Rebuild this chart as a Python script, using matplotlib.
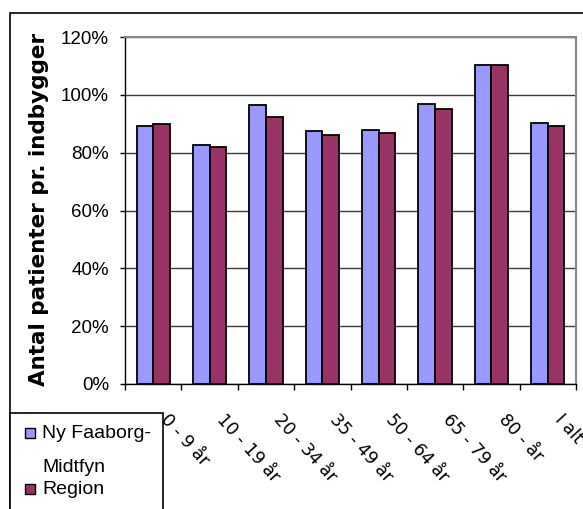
import matplotlib
matplotlib.use("Agg")
import matplotlib.pyplot as plt
import numpy as np
from matplotlib.patches import Rectangle
from matplotlib.ticker import FixedLocator, PercentFormatter

categories = ["0 - 9 år", "10 - 19 år", "20 - 34 år", "35 - 49 år",
              "50 - 64 år", "65 - 79 år", "80 - år", "I alt"]
faaborg = [89.2, 82.6, 96.5, 87.6, 87.8, 96.7, 110.4, 90.1]
region = [90.0, 82.1, 92.4, 86.0, 86.9, 95.0, 110.4, 89.2]
series_names = ["Ny Faaborg-\nMidtfyn", "Region"]
yticks = [0, 20, 40, 60, 80, 100, 120]

BLUE = "#9999FF"
PLUM = "#993366"
FONT = "Liberation Sans"

W, H = 583, 509
fig = plt.figure(figsize=(W / 100, H / 100), dpi=100)


def fx(px):
    return px / W


def fy(py):
    return 1 - py / H


# outer chart frame (only top and left edges fall inside the canvas)
fig.patches.append(Rectangle((fx(10), -0.2), 1.2, fy(13) + 0.2,
                             transform=fig.transFigure, fill=False,
                             edgecolor="black", linewidth=1.2))

ax = fig.add_axes([fx(125), fy(384), fx(576 - 125), (384 - 37) / H])

x = np.arange(len(categories))
bw = 0.296
ax.bar(x - bw / 2, faaborg, bw, color=BLUE, edgecolor="black", linewidth=1.3,
       zorder=3)
ax.bar(x + bw / 2, region, bw, color=PLUM, edgecolor="black", linewidth=1.3,
       zorder=3)

ax.set_xlim(-0.5, len(categories) - 0.5)
ax.set_ylim(0, 120)
ax.yaxis.set_major_locator(FixedLocator(yticks))
ax.yaxis.set_major_formatter(PercentFormatter(decimals=0))
ax.grid(axis="y", color="#3a3a3a", linewidth=1.0, zorder=0)
ax.set_axisbelow(True)

for s in ("top", "right"):
    ax.spines[s].set_color("#888888")
    ax.spines[s].set_linewidth(1.5)
for s in ("left", "bottom"):
    ax.spines[s].set_color("black")
    ax.spines[s].set_linewidth(1.0)

ax.tick_params(axis="y", direction="out", length=3.6, width=1, pad=8,
               labelsize=13.5)
for lab in ax.get_yticklabels():
    lab.set_family(FONT)

# group boundaries carry the tick marks, group centres carry the labels
ax.set_xticks(np.arange(-0.5, len(categories), 1.0), minor=True)
ax.tick_params(axis="x", which="minor", direction="out", length=4.3, width=1)
ax.set_xticks(x)
ax.set_xticklabels([])
ax.tick_params(axis="x", which="major", length=0)

for xi, lab in zip(x, categories):
    ax.annotate(lab, xy=(xi, 0), xycoords=("data", "axes fraction"),
                xytext=(17, -27), textcoords="offset pixels",
                rotation=-48, rotation_mode="anchor", ha="left", va="top",
                fontsize=12.5, family="DejaVu Sans")

fig.text(fx(39), fy(209), "Antal patienter pr. indbygger", rotation=90,
         ha="center", va="center", fontsize=15.5, fontweight="bold",
         family="DejaVu Sans")

# legend box, running off the bottom edge
fig.patches.append(Rectangle((fx(10), -0.1), fx(163 - 10),
                             (509 - 413) / H + 0.1, transform=fig.transFigure,
                             facecolor="white", edgecolor="black",
                             linewidth=1.2, zorder=5))
colors = [BLUE, PLUM]
key_tops = [428, 484]
text_centres = [(434, 468), (489,)]
for c, top, name, centres in zip(colors, key_tops, series_names,
                                 text_centres):
    fig.patches.append(Rectangle((fx(25), fy(top + 10)), fx(10), 10 / H,
                                 transform=fig.transFigure, facecolor=c,
                                 edgecolor="black", linewidth=1.0, zorder=6))
    for line, cy in zip(name.split("\n"), centres):
        fig.text(fx(42), fy(cy), line, ha="left", va="center",
                 fontsize=14, family=FONT, zorder=7)

fig.savefig("out.png", dpi=100)
